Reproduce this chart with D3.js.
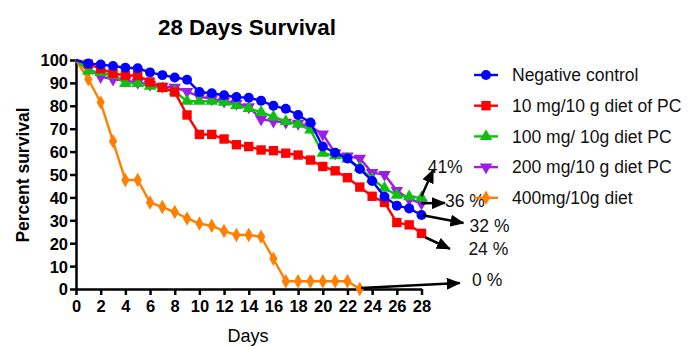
<!DOCTYPE html>
<html>
<head>
<meta charset="utf-8">
<script src="https://cdn.jsdelivr.net/npm/d3@7"></script>
<style>
  body { margin: 0; background: #fff; }
  svg { font-family: Arial, "Liberation Sans", sans-serif; }
  .axis path, .axis line { stroke: #000; stroke-width: 2.5px; }
  .axis text { font-weight: bold; font-size: 16.5px; fill: #000; }
</style>
</head>
<body>
<svg width="694" height="347"></svg>
<script>
// **** Data ****
var days = [0, 1, 2, 3, 4, 5, 6, 7, 8, 9, 10, 11, 12, 13, 14, 15, 16, 17, 18, 19, 20, 21, 22, 23, 24, 25, 26, 27, 28];
var negControl = [100, 98.5, 98, 97.4, 96.6, 96.4, 94.6, 93.4, 92.4, 91.4, 86, 85.5, 84.6, 83.8, 83.5, 82.2, 80, 78.7, 76, 72.7, 62.2, 59.5, 57, 52.4, 47.2, 40.3, 36.4, 35.2, 32.3];
var pc10 = [100, 98.2, 96.2, 94.2, 93.2, 93.2, 90.4, 88, 86, 76, 67.5, 67.5, 65.5, 63, 62.2, 60.7, 60.4, 59.3, 58.5, 56.3, 53.5, 51.6, 48.6, 44.5, 40.5, 37.8, 29, 28, 24.3];
var pc100 = [100, 95.3, 94.6, 93.4, 89.8, 89.8, 88.6, 87.6, 86.2, 82, 82, 82, 81.6, 80.2, 78.9, 77.2, 75.2, 73.2, 72, 69.5, 59.3, 58.2, 56.8, 53, 48, 44, 41, 40.3, 39.8];
var pc200 = [100, 96.5, 92.7, 91.6, 91, 90.2, 89.3, 88.5, 88, 86.2, 84, 83, 82, 81, 79.5, 74.2, 73.2, 72.8, 72.3, 71, 67.6, 59.3, 58, 57, 50.8, 50, 43, 39.2, 37.4];
var diet400 = [100, 91.6, 81.5, 64.5, 47.6, 47.6, 37.8, 35.8, 33.6, 30.8, 28.6, 27.6, 25.3, 23.6, 23.6, 22.8, 13.2, 3.4, 3.4, 3.4, 3.4, 3.4, 3.4, 0];

var seriesNames = ["Negative control", "10 mg/10 g diet of PC", "100 mg/ 10g diet PC", "200 mg/10 g diet PC", "400mg/10g diet"];
var seriesValues = [negControl, pc10, pc100, pc200, diet400];
var seriesColours = ["#0000ff", "#ff0000", "#10c010", "#9a1ee6", "#ff8000"];

var xTicks = [0, 2, 4, 6, 8, 10, 12, 14, 16, 18, 20, 22, 24, 26, 28];
var yTicks = [0, 10, 20, 30, 40, 50, 60, 70, 80, 90, 100];

// end-point call-outs: label, arrow start (day, %), arrow tip (day, %), label position (day, %)
var callouts = [
    { label: "41%",  from: [28, 40.5], to: [28.95, 52],  at: [28.5, 53.3] },
    { label: "36 %", from: [28, 37.4], to: [29.9, 37.6], at: [29.9, 38.4] },
    { label: "32 %", from: [28, 32.3], to: [31.4, 28.8], at: [31.9, 27.5] },
    { label: "24 %", from: [28.3, 22.6], to: [30.3, 17.5], at: [31.8, 17.7] },
    { label: "0 %",  from: [23.1, 0.4], to: [31.1, 2.6], at: [32.1, 3.9] }
];

var svg = d3.select("svg");

var xScale = d3.scaleLinear().domain([0, 28]).range([76, 421.5]);
var yScale = d3.scaleLinear().domain([0, 100]).range([289, 60]);

var symbols = [
    d3.symbol().type(d3.symbolCircle).size(78),
    d3.symbol().type(d3.symbolSquare).size(88),
    d3.symbol().type(d3.symbolTriangle).size(68),
    d3.symbol().type(d3.symbolTriangle).size(68),
    d3.symbol().type(d3.symbolDiamond).size(60)
];
var rotations = [0, 0, 0, 180, 0];

// **** Axes ****
svg.append("g").attr("class", "x axis")
    .attr("transform", "translate(0,289)")
    .call(d3.axisBottom(xScale).tickValues(xTicks).tickSize(6).tickPadding(5).tickSizeOuter(0));

svg.append("g").attr("class", "y axis")
    .attr("transform", "translate(76,0)")
    .call(d3.axisLeft(yScale).tickValues(yTicks).tickSize(6).tickPadding(2).tickSizeOuter(0));

svg.selectAll(".y.axis text").attr("dy", "0.36em");

// **** Lines and markers (last series drawn first) ****
var line = d3.line()
    .x((d, i) => xScale(days[i]))
    .y(d => yScale(d));

var order = [4, 3, 2, 1, 0];
order.forEach(function(s) {
    var g = svg.append("g").attr("class", "series");
    g.append("path")
        .datum(seriesValues[s])
        .attr("d", line)
        .attr("fill", "none")
        .attr("stroke", seriesColours[s])
        .attr("stroke-width", 2.4);
    g.selectAll("path.pt")
        .data(seriesValues[s].slice(1))
        .enter()
        .append("path")
        .attr("class", "pt")
        .attr("d", symbols[s])
        .attr("transform", (d, i) => `translate(${xScale(days[i + 1])},${yScale(d)}) rotate(${rotations[s]})`)
        .attr("fill", seriesColours[s]);
});

// **** Arrows ****
svg.append("defs").append("marker")
    .attr("id", "head")
    .attr("markerUnits", "userSpaceOnUse")
    .attr("viewBox", "0 0 14 12")
    .attr("refX", 13).attr("refY", 6)
    .attr("markerWidth", 14).attr("markerHeight", 12)
    .attr("orient", "auto")
    .append("path")
    .attr("d", "M0,0 L14,6 L0,12 Z")
    .attr("fill", "#000");

svg.selectAll("line.arrow")
    .data(callouts)
    .enter()
    .append("line")
    .attr("class", "arrow")
    .attr("x1", d => xScale(d.from[0]))
    .attr("y1", d => yScale(d.from[1]))
    .attr("x2", d => xScale(d.to[0]))
    .attr("y2", d => yScale(d.to[1]))
    .attr("stroke", "#000")
    .attr("stroke-width", 2.5)
    .attr("marker-end", "url(#head)");

svg.selectAll("text.callout")
    .data(callouts)
    .enter()
    .append("text")
    .attr("class", "callout")
    .attr("x", d => xScale(d.at[0]))
    .attr("y", d => yScale(d.at[1]))
    .attr("dy", "0.35em")
    .style("font-size", "17.5px")
    .attr("fill", "#111")
    .text(d => d.label);

// **** Legend ****
var legend = svg.append("g")
    .attr("class", "legend")
    .attr("transform", "translate(474,75)");

var legendItem = legend.selectAll("g")
    .data(seriesNames)
    .enter()
    .append("g")
    .attr("transform", (d, i) => `translate(0, ${i * 30.7})`);

legendItem.append("line")
    .attr("x1", 0).attr("x2", 24)
    .attr("stroke", (d, i) => seriesColours[i])
    .attr("stroke-width", 2.4);

legendItem.append("path")
    .attr("d", (d, i) => symbols[i]())
    .attr("transform", (d, i) => `translate(12,0) rotate(${rotations[i]})`)
    .attr("fill", (d, i) => seriesColours[i]);

legendItem.append("text")
    .attr("x", 38)
    .attr("dy", "0.35em")
    .style("font-size", "17.5px")
    .attr("fill", "#111")
    .text(d => d);

// **** Titles ****
svg.append("text")
    .attr("x", 247).attr("y", 35)
    .attr("text-anchor", "middle")
    .style("font-size", "22px")
    .style("font-weight", "bold")
    .attr("textLength", 178)
    .attr("lengthAdjust", "spacingAndGlyphs")
    .text("28 Days Survival");

svg.append("text")
    .attr("transform", "translate(29,175) rotate(-90)")
    .attr("text-anchor", "middle")
    .style("font-size", "17.5px")
    .style("font-weight", "bold")
    .text("Percent survival");

svg.append("text")
    .attr("x", 248).attr("y", 342)
    .attr("text-anchor", "middle")
    .style("font-size", "18px")
    .text("Days");
</script>
</body>
</html>
